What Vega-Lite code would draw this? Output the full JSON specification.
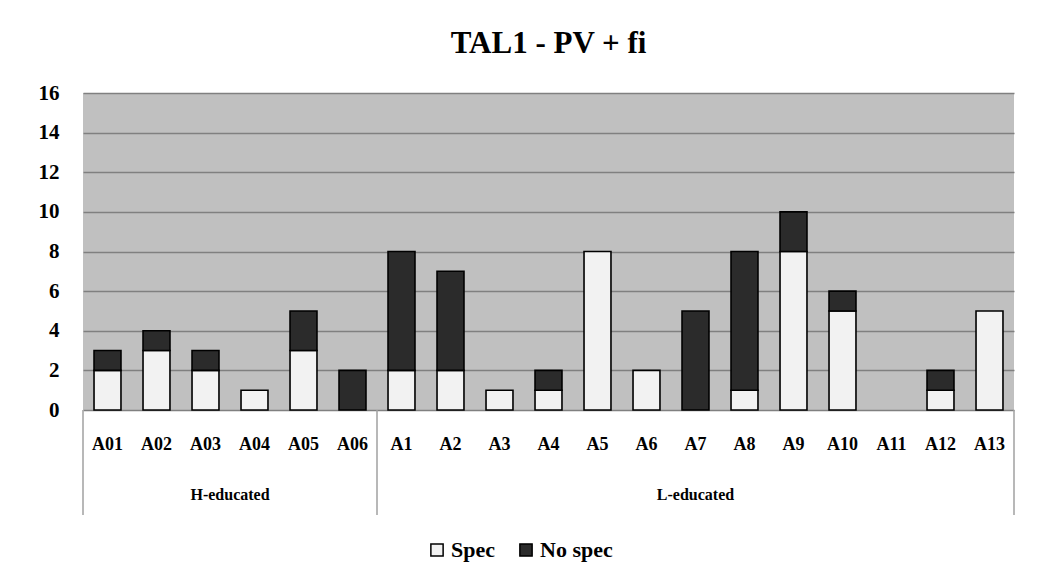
{
  "$schema": "https://vega.github.io/schema/vega-lite/v6.json",
  "width": 931,
  "height": 317,
  "autosize": {"type": "pad"},
  "padding": {"left": 38, "top": 28, "right": 20, "bottom": 10},
  "background": "white",
  "title": {
    "text": "TAL1 - PV + fi",
    "font": "Liberation Serif",
    "fontSize": 31,
    "fontWeight": "bold",
    "color": "black",
    "anchor": "middle",
    "offset": 22
  },
  "config": {
    "view": {"fill": "#c0c0c0", "stroke": null},
    "font": "Liberation Serif"
  },
  "resolve": {"scale": {"x": "independent"}},
  "layer": [
    {
      "data": {
        "values": [
          {"cat": "A01", "group": "H-educated", "type": "Spec", "value": 2},
          {"cat": "A01", "group": "H-educated", "type": "No spec", "value": 1},
          {"cat": "A02", "group": "H-educated", "type": "Spec", "value": 3},
          {"cat": "A02", "group": "H-educated", "type": "No spec", "value": 1},
          {"cat": "A03", "group": "H-educated", "type": "Spec", "value": 2},
          {"cat": "A03", "group": "H-educated", "type": "No spec", "value": 1},
          {"cat": "A04", "group": "H-educated", "type": "Spec", "value": 1},
          {"cat": "A04", "group": "H-educated", "type": "No spec", "value": 0},
          {"cat": "A05", "group": "H-educated", "type": "Spec", "value": 3},
          {"cat": "A05", "group": "H-educated", "type": "No spec", "value": 2},
          {"cat": "A06", "group": "H-educated", "type": "Spec", "value": 0},
          {"cat": "A06", "group": "H-educated", "type": "No spec", "value": 2},
          {"cat": "A1", "group": "L-educated", "type": "Spec", "value": 2},
          {"cat": "A1", "group": "L-educated", "type": "No spec", "value": 6},
          {"cat": "A2", "group": "L-educated", "type": "Spec", "value": 2},
          {"cat": "A2", "group": "L-educated", "type": "No spec", "value": 5},
          {"cat": "A3", "group": "L-educated", "type": "Spec", "value": 1},
          {"cat": "A3", "group": "L-educated", "type": "No spec", "value": 0},
          {"cat": "A4", "group": "L-educated", "type": "Spec", "value": 1},
          {"cat": "A4", "group": "L-educated", "type": "No spec", "value": 1},
          {"cat": "A5", "group": "L-educated", "type": "Spec", "value": 8},
          {"cat": "A5", "group": "L-educated", "type": "No spec", "value": 0},
          {"cat": "A6", "group": "L-educated", "type": "Spec", "value": 2},
          {"cat": "A6", "group": "L-educated", "type": "No spec", "value": 0},
          {"cat": "A7", "group": "L-educated", "type": "Spec", "value": 0},
          {"cat": "A7", "group": "L-educated", "type": "No spec", "value": 5},
          {"cat": "A8", "group": "L-educated", "type": "Spec", "value": 1},
          {"cat": "A8", "group": "L-educated", "type": "No spec", "value": 7},
          {"cat": "A9", "group": "L-educated", "type": "Spec", "value": 8},
          {"cat": "A9", "group": "L-educated", "type": "No spec", "value": 2},
          {"cat": "A10", "group": "L-educated", "type": "Spec", "value": 5},
          {"cat": "A10", "group": "L-educated", "type": "No spec", "value": 1},
          {"cat": "A11", "group": "L-educated", "type": "Spec", "value": 0},
          {"cat": "A11", "group": "L-educated", "type": "No spec", "value": 0},
          {"cat": "A12", "group": "L-educated", "type": "Spec", "value": 1},
          {"cat": "A12", "group": "L-educated", "type": "No spec", "value": 1},
          {"cat": "A13", "group": "L-educated", "type": "Spec", "value": 5},
          {"cat": "A13", "group": "L-educated", "type": "No spec", "value": 0}
        ]
      },
      "transform": [
        {"filter": "datum.value > 0"},
        {"calculate": "datum.type === 'Spec' ? 0 : 1", "as": "ord"}
      ],
      "mark": {"type": "bar", "stroke": "black", "strokeWidth": 1.6},
      "encoding": {
        "x": {
          "field": "cat",
          "type": "nominal",
          "scale": {
            "domain": ["A01", "A02", "A03", "A04", "A05", "A06", "A1", "A2", "A3", "A4", "A5", "A6", "A7", "A8", "A9", "A10", "A11", "A12", "A13"],
            "paddingInner": 0.45,
            "paddingOuter": 0.225
          },
          "axis": {
            "title": null,
            "labelAngle": 0,
            "domain": false,
            "ticks": false,
            "tickSize": 0,
            "labelPadding": 34,
            "labelFont": "Liberation Serif",
            "labelFontSize": 18,
            "labelFontWeight": "bold",
            "labelColor": "black",
            "labelBaseline": "middle"
          }
        },
        "y": {
          "field": "value",
          "type": "quantitative",
          "stack": "zero",
          "scale": {"domain": [0, 16], "nice": false},
          "axis": {
            "title": null,
            "values": [0, 2, 4, 6, 8, 10, 12, 14, 16],
            "labelOverlap": false,
            "domain": false,
            "ticks": false,
            "tickSize": 0,
            "labelPadding": 24,
            "labelFont": "Liberation Serif",
            "labelFontSize": 21,
            "labelFontWeight": "bold",
            "labelColor": "black",
            "gridColor": "#808080",
            "gridWidth": 1.3,
            "gridOpacity": 1
          }
        },
        "color": {
          "field": "type",
          "type": "nominal",
          "scale": {"domain": ["Spec", "No spec"], "range": ["#f2f2f2", "#2b2b2b"]},
          "legend": {
            "title": null,
            "orient": "none",
            "legendX": 343,
            "legendY": 446,
            "direction": "horizontal",
            "symbolType": "square",
            "symbolSize": 150,
            "symbolStrokeColor": "black",
            "symbolStrokeWidth": 1.5,
            "symbolOpacity": 1,
            "labelFont": "Liberation Serif",
            "labelFontSize": 22,
            "labelFontWeight": "bold",
            "labelColor": "black",
            "labelOffset": 3,
            "columnPadding": 20
          }
        },
        "order": {"field": "ord", "type": "quantitative"}
      }
    },
    {
      "data": {"values": [{"pos": 0}, {"pos": 6}, {"pos": 19}]},
      "mark": {"type": "rule", "color": "#a0a0a0", "strokeWidth": 1.5},
      "encoding": {
        "x": {"field": "pos", "type": "quantitative", "scale": {"domain": [0, 19], "nice": false, "zero": false}, "axis": null},
        "y": {
          "datum": 0,
          "type": "quantitative",
          "axis": {
            "title": null,
            "values": [0, 2, 4, 6, 8, 10, 12, 14, 16],
            "labelOverlap": false,
            "domain": false,
            "ticks": false,
            "tickSize": 0,
            "labelPadding": 24,
            "labelFont": "Liberation Serif",
            "labelFontSize": 21,
            "labelFontWeight": "bold",
            "labelColor": "black",
            "gridColor": "#808080",
            "gridWidth": 1.3,
            "gridOpacity": 1
          }
        },
        "y2": {"datum": -5.3}
      }
    },
    {
      "data": {"values": [{"pos": 3, "group": "H-educated"}, {"pos": 12.5, "group": "L-educated"}]},
      "mark": {"type": "text", "font": "Liberation Serif", "fontSize": 16, "fontWeight": "bold", "color": "black", "baseline": "middle", "align": "center"},
      "encoding": {
        "x": {"field": "pos", "type": "quantitative", "scale": {"domain": [0, 19], "nice": false, "zero": false}, "axis": null},
        "y": {
          "datum": -4.3,
          "type": "quantitative",
          "axis": {
            "title": null,
            "values": [0, 2, 4, 6, 8, 10, 12, 14, 16],
            "labelOverlap": false,
            "domain": false,
            "ticks": false,
            "tickSize": 0,
            "labelPadding": 24,
            "labelFont": "Liberation Serif",
            "labelFontSize": 21,
            "labelFontWeight": "bold",
            "labelColor": "black",
            "gridColor": "#808080",
            "gridWidth": 1.3,
            "gridOpacity": 1
          }
        },
        "text": {"field": "group"}
      }
    }
  ]
}
